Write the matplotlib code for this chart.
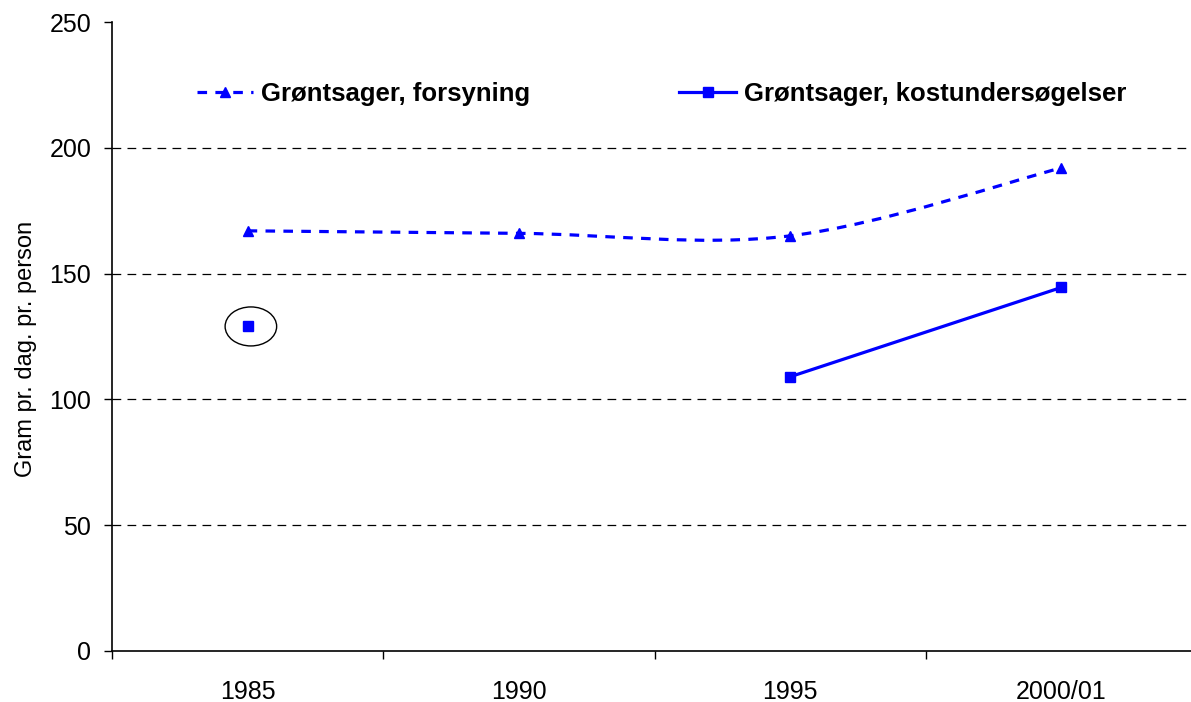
import matplotlib
matplotlib.use("Agg")
import matplotlib.pyplot as plt
from matplotlib.path import Path
from matplotlib.patches import PathPatch, Ellipse
from matplotlib.lines import Line2D
import numpy as np

plt.rcParams['font.family'] = ['Liberation Sans', 'DejaVu Sans']

# data
years = ['1985', '1990', '1995', '2000/01']
forsyning = [167, 166, 165, 192]          # Grøntsager, forsyning (smoothed dashed line)
kost_single = [129]                        # 1985 kostundersøgelse (isolated, circled)
kost_years = ['1995', '2000/01']
kost = [109, 144.5]                        # Grøntsager, kostundersøgelser

blue = '#0000ff'

fig = plt.figure(figsize=(11.91, 7.02), dpi=100)
ax = fig.add_axes([112 / 1191, 51 / 702, 1085 / 1191, 629 / 702])

xs = np.arange(len(years))

# smoothed line (Catmull-Rom style bezier, like Excel "smoothed line")
pts = np.column_stack([xs, forsyning]).astype(float)
verts = [pts[0]]
codes = [Path.MOVETO]
for i in range(len(pts) - 1):
    p0 = pts[max(i - 1, 0)]
    p1 = pts[i]
    p2 = pts[i + 1]
    p3 = pts[min(i + 2, len(pts) - 1)]
    c1 = p1 + (p2 - p0) / 6
    c2 = p2 - (p3 - p1) / 6
    verts += [c1, c2, p2]
    codes += [Path.CURVE4] * 3
ax.add_patch(PathPatch(Path(verts, codes), fill=False, edgecolor=blue,
                       lw=2.3, linestyle=(0, (3, 2.6)), zorder=3))
ax.plot(xs, forsyning, linestyle='none', marker='^', color=blue, ms=7, zorder=4)

# kostundersøgelser
kx = [years.index(y) for y in kost_years]
ax.plot(kx, kost, color=blue, lw=2.3, marker='s', ms=7, zorder=4)
ax.plot([0], kost_single, linestyle='none', marker='s', color=blue, ms=7, zorder=4)
ax.add_patch(Ellipse((0.012, kost_single[0]), 0.19, 15.5, fill=False,
                     edgecolor='black', lw=1.0, zorder=3))

# gridlines
for y in [50, 100, 150, 200]:
    ax.axhline(y, color='black', lw=0.9, linestyle=(0, (7, 5)), zorder=1)

ax.set_xlim(-0.5, 3.5)
ax.set_ylim(0, 250)
ax.set_yticks([0, 50, 100, 150, 200, 250])
ax.set_xticks(xs)
ax.set_xticklabels(years)
ax.set_xticks(np.arange(-0.5, 4, 1), minor=True)
ax.tick_params(axis='x', which='major', length=0, pad=21, labelsize=18)
ax.tick_params(axis='x', which='minor', length=6, width=1, direction='out')
ax.tick_params(axis='y', length=6, width=1, direction='out', pad=9, labelsize=18)

for s in ['top', 'right']:
    ax.spines[s].set_visible(False)
ax.spines['left'].set_linewidth(1.2)
ax.spines['bottom'].set_linewidth(1.2)

ax.set_ylabel('Gram pr. dag. pr. person', fontsize=17)
ax.yaxis.set_label_coords(-0.069, 0.48)

handles = [
    Line2D([], [], color=blue, lw=2.3, linestyle=(0, (3, 2.6)), marker='^', ms=7),
    Line2D([], [], color=blue, lw=2.3, marker='s', ms=7),
]
ax.legend(handles, ['Grøntsager, forsyning', 'Grøntsager, kostundersøgelser'],
          ncol=2, frameon=False, loc='center left', bbox_to_anchor=(0.057, 0.885),
          prop={'weight': 'bold', 'size': 18.5}, handlelength=2.2,
          handletextpad=0.3, columnspacing=5.8)

fig.savefig('out.png', dpi=100)
